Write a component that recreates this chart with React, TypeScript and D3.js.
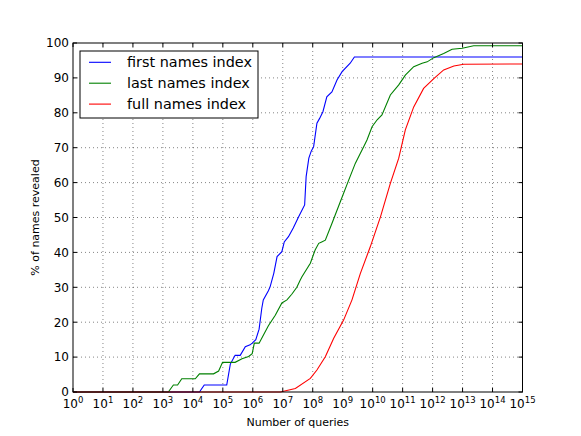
import * as React from 'react';
import * as d3 from 'd3';

// x values are log10(number of queries), y values are % of names revealed
const firstNamesLogQ = [0, 4.22, 4.38, 5.13, 5.25, 5.41, 5.58, 5.75, 5.91, 5.98, 6.1, 6.21, 6.3, 6.35, 6.52, 6.58, 6.7, 6.81, 6.97, 7.05, 7.19, 7.35, 7.53, 7.73, 7.78, 7.87, 7.95, 8.03, 8.14, 8.23, 8.34, 8.47, 8.64, 8.81, 8.98, 9.25, 9.39, 15];
const firstNamesPct = [0, 0, 2, 2, 8, 10.5, 10.5, 13, 13.5, 14, 15, 18, 24, 26.4, 29, 30.2, 34, 38.8, 40.2, 43, 44.5, 47, 50.2, 53.6, 61.7, 67, 69, 70.3, 77, 78.4, 80.3, 84.6, 86, 89.4, 91.8, 94.2, 96, 96];

const lastNamesLogQ = [0, 3.18, 3.35, 3.49, 3.63, 4.08, 4.22, 4.69, 4.86, 4.99, 5.41, 5.64, 5.86, 5.98, 6.05, 6.21, 6.52, 6.75, 6.97, 7.14, 7.3, 7.47, 7.58, 7.64, 7.92, 8.08, 8.2, 8.3, 8.42, 8.64, 8.92, 9.2, 9.42, 9.59, 9.7, 9.81, 9.98, 10.15, 10.31, 10.59, 10.87, 11.09, 11.37, 11.65, 11.82, 12.04, 12.37, 12.65, 12.99, 13.37, 15];
const lastNamesPct = [0, 0, 2, 2, 3.8, 3.8, 5.2, 5.2, 6, 8.5, 8.5, 9.5, 10.2, 11, 14, 14, 19, 22, 25.5, 26.4, 28, 30, 32, 33, 36.9, 40.7, 42.6, 43, 43.5, 48.3, 54.5, 60.7, 65.5, 68.4, 70.3, 72.2, 76, 78, 79.4, 85.1, 88, 90.8, 93.2, 94.2, 94.6, 95.8, 97, 98.2, 98.5, 99.2, 99.2];

const fullNamesLogQ = [0, 6.92, 7.42, 7.92, 8.14, 8.42, 8.7, 9.03, 9.31, 9.59, 9.92, 10.26, 10.59, 10.87, 11.09, 11.37, 11.7, 12.04, 12.37, 12.71, 13.04, 15];
const fullNamesPct = [0, 0, 1, 3.9, 6.3, 10.1, 15.4, 20.6, 26.4, 34, 41.6, 50.2, 59.8, 67, 75.1, 81.7, 87, 89.8, 92.3, 93.4, 93.9, 94];

const seriesNames = ['first names index', 'last names index', 'full names index'];
const seriesColors = ['#0000ff', '#008000', '#ff0000'];
const xTickExps = d3.range(0, 16);
const yTicks = d3.range(0, 101, 10);

const W = 581, H = 436;
const margin = {top: 43, right: 58.5, bottom: 44, left: 73};
const font = 'DejaVu Sans, sans-serif';

export default function App() {
  const x = d3.scaleLog().domain([1, 1e15]).range([margin.left, W - margin.right]);
  const y = d3.scaleLinear().domain([0, 100]).range([H - margin.bottom, margin.top]);
  const x0 = x.range()[0], x1 = x.range()[1];
  const y0 = y.range()[0], y1 = y.range()[1];

  const series = [
    [firstNamesLogQ, firstNamesPct],
    [lastNamesLogQ, lastNamesPct],
    [fullNamesLogQ, fullNamesPct],
  ].map(([lq, p]) => lq.map((e, i) => [Math.pow(10, e), p[i]] as [number, number]));

  const line = d3.line<[number, number]>().x(d => x(d[0])).y(d => y(d[1]));

  return (
    <svg width={W} height={H} style={{position: 'absolute', left: 0, top: 0, background: '#fff'}}>
      <rect width={W} height={H} fill="#fff" />
      {/* grid */}
      <g stroke="#000" strokeWidth={0.6} strokeDasharray="1,3" opacity={0.8}>
        {xTickExps.slice(1, -1).map(e => (
          <line key={'gx' + e} x1={x(Math.pow(10, e))} x2={x(Math.pow(10, e))} y1={y1} y2={y0} />
        ))}
        {yTicks.slice(1, -1).map(v => (
          <line key={'gy' + v} x1={x0} x2={x1} y1={y(v)} y2={y(v)} />
        ))}
      </g>
      {/* lines */}
      <g fill="none" strokeWidth={1.1}>
        {series.map((s, i) => (
          <path key={i} d={line(s) || ''} stroke={seriesColors[i]} />
        ))}
      </g>
      {/* ticks */}
      <g stroke="#000" strokeWidth={1}>
        {xTickExps.map(e => {
          const px = x(Math.pow(10, e));
          return (
            <g key={'tx' + e}>
              <line x1={px} x2={px} y1={y0} y2={y0 - 4} />
              <line x1={px} x2={px} y1={y1} y2={y1 + 4} />
            </g>
          );
        })}
        {yTicks.map(v => (
          <g key={'ty' + v}>
            <line x1={x0} x2={x0 + 4} y1={y(v)} y2={y(v)} />
            <line x1={x1} x2={x1 - 4} y1={y(v)} y2={y(v)} />
          </g>
        ))}
      </g>
      <rect x={x0} y={y1} width={x1 - x0} height={y0 - y1} fill="none" stroke="#000" strokeWidth={1} />
      {/* tick labels */}
      <g fontFamily={font} fill="#000">
        {xTickExps.map(e => (
          <text key={'lx' + e} x={x(Math.pow(10, e))} y={y0 + 15.5} textAnchor="middle" fontSize={12}>
            10<tspan fontSize={8.5} dy={-5}>{e}</tspan>
          </text>
        ))}
        {yTicks.map(v => (
          <text key={'ly' + v} x={x0 - 4} y={y(v) + 4.3} textAnchor="end" fontSize={12}>{v}</text>
        ))}
        <text x={(x0 + x1) / 2} y={426} textAnchor="middle" fontSize={11}>Number of queries</text>
        <text transform={`translate(39,${(y0 + y1) / 2}) rotate(-90)`} textAnchor="middle" fontSize={11}>% of names revealed</text>
      </g>
      {/* legend */}
      <g fontFamily={font}>
        <rect x={80} y={51} width={178} height={67} fill="#fff" stroke="#000" strokeWidth={1} />
        {seriesNames.map((n, i) => (
          <g key={n}>
            <line x1={89} x2={111} y1={62.3 + i * 20.9} y2={62.3 + i * 20.9} stroke={seriesColors[i]} strokeWidth={1.1} />
            <text x={127} y={62.3 + i * 20.9 + 5} fontSize={14.4} fill="#000">{n}</text>
          </g>
        ))}
      </g>
    </svg>
  );
}
